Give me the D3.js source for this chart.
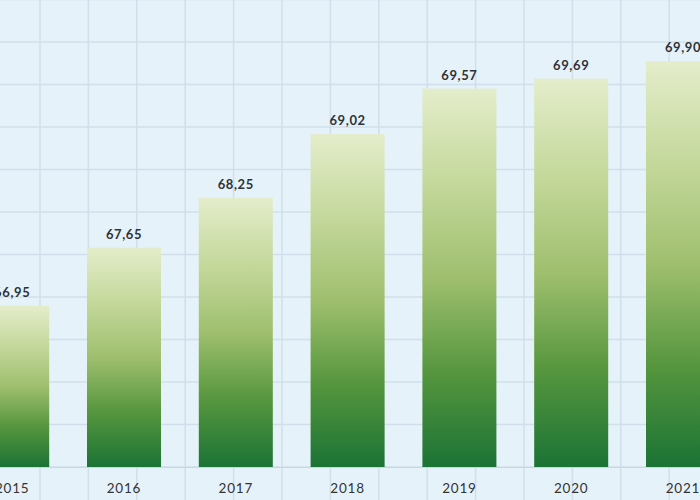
<!DOCTYPE html>
<html>
<head>
<meta charset="utf-8">
<script src="https://cdn.jsdelivr.net/npm/d3@7"></script>
<style>
  html, body { margin: 0; padding: 0; background: #e6f2fa; }
  svg { display: block; }
</style>
</head>
<body>
<svg id="chart" width="700" height="500"></svg>
<script>
// data
var years = ["2015", "2016", "2017", "2018", "2019", "2020", "2021"];
var values = [66.95, 67.65, 68.25, 69.02, 69.57, 69.69, 69.90];

var W = 700, H = 500;
var baseY = 467;

var svg = d3.select("#chart");

// comma as decimal mark
var locale = d3.formatLocale({decimal: ",", thousands: ".", grouping: [3], currency: ["", ""]});
var fmt = locale.format(".2f");

// scales (the picture is cropped, so range runs past the edges)
var x = d3.scaleBand()
    .domain(years)
    .range([-43.7, 738.9])
    .paddingInner(0.338)
    .paddingOuter(0.169);

var y = d3.scaleLinear()
    .domain([65, 70.64])
    .range([baseY, 0]);

// background graph-paper grid
var gridX = d3.range(40, W, 48.4);
var gridY = d3.range(baseY, -1, -42.5);

var grid = svg.append("g").attr("class", "grid");
grid.selectAll("line.v")
    .data(gridX)
    .enter().append("line")
    .attr("class", "v")
    .attr("x1", d => d).attr("x2", d => d)
    .attr("y1", 0).attr("y2", H)
    .attr("stroke", "#d0dfe9")
    .attr("stroke-width", 1.5);
grid.selectAll("line.h")
    .data(gridY)
    .enter().append("line")
    .attr("class", "h")
    .attr("x1", 0).attr("x2", W)
    .attr("y1", d => d).attr("y2", d => d)
    .attr("stroke", "#d0dfe9")
    .attr("stroke-width", 1.5);

// per-bar vertical gradient
var defs = svg.append("defs");
var grad = defs.append("linearGradient")
    .attr("id", "barGrad")
    .attr("x1", 0).attr("y1", 0)
    .attr("x2", 0).attr("y2", 1);
grad.append("stop").attr("offset", "0%").attr("stop-color", "#e4edcb");
grad.append("stop").attr("offset", "25%").attr("stop-color", "#c4d89b");
grad.append("stop").attr("offset", "50%").attr("stop-color", "#9fbf6e");
grad.append("stop").attr("offset", "75%").attr("stop-color", "#56963e");
grad.append("stop").attr("offset", "100%").attr("stop-color", "#1b7335");

// axis line
svg.append("line")
    .attr("x1", 0).attr("x2", W)
    .attr("y1", baseY + 0.5).attr("y2", baseY + 0.5)
    .attr("stroke", "#cdd6da")
    .attr("stroke-width", 1);

var data = years.map((yr, i) => ({year: yr, value: values[i]}));

svg.selectAll("rect.bar")
    .data(data)
    .enter().append("rect")
    .attr("class", "bar")
    .attr("x", d => x(d.year))
    .attr("y", d => y(d.value))
    .attr("width", x.bandwidth())
    .attr("height", d => baseY - y(d.value))
    .attr("fill", "url(#barGrad)");

// value labels
svg.selectAll("text.val")
    .data(data)
    .enter().append("text")
    .attr("class", "val")
    .attr("x", d => x(d.year) + x.bandwidth() / 2)
    .attr("y", d => y(d.value) - 9)
    .attr("text-anchor", "middle")
    .attr("font-family", "Lato, 'Open Sans', sans-serif")
    .attr("font-weight", "bold")
    .attr("font-size", "13px")
    .attr("letter-spacing", "0.6px")
    .attr("fill", "#2e3236")
    .text(d => fmt(d.value));

// year labels
svg.selectAll("text.year")
    .data(data)
    .enter().append("text")
    .attr("class", "year")
    .attr("x", d => x(d.year) + x.bandwidth() / 2)
    .attr("y", 493)
    .attr("text-anchor", "middle")
    .attr("font-family", "Lato, 'Open Sans', sans-serif")
    .attr("font-size", "13.5px")
    .attr("letter-spacing", "0.8px")
    .attr("fill", "#333")
    .text(d => d.year);
</script>
</body>
</html>
